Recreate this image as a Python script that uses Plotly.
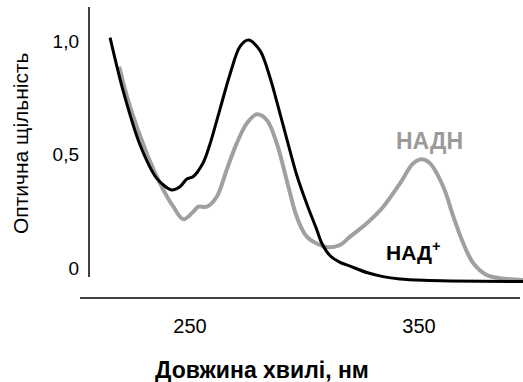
import plotly.graph_objects as go

# Wavelength (nm) and optical density
nad_wl = [215.1, 220.9, 228.2, 235.5, 242.0, 245.6, 248.6, 251.3, 255.8, 258.7, 263.1, 267.5,
          271.8, 275.5, 280.6, 284.9, 287.9, 292.2, 296.6, 301.0, 305.3, 307.5, 311.1, 315.5,
          319.9, 327.2, 334.3, 341.7, 352.0, 363.5, 395.4]
nad_od = [1.015, 0.777, 0.542, 0.395, 0.344, 0.358, 0.392, 0.402, 0.465, 0.545, 0.700, 0.855,
          0.975, 1.004, 0.958, 0.840, 0.733, 0.571, 0.410, 0.282, 0.170, 0.110, 0.055, 0.025,
          0.008, -0.020, -0.038, -0.048, -0.054, -0.057, -0.060]

nadh_wl = [219.1, 223.8, 231.1, 236.9, 242.7, 247.1, 251.4, 253.6, 257.3, 261.7, 266.0, 270.4,
           274.8, 279.1, 283.5, 287.9, 292.2, 296.6, 301.0, 307.5, 311.1, 315.5, 319.9, 327.2,
           334.4, 341.7, 347.5, 351.2, 354.8, 360.6, 365.0, 369.3, 373.7, 379.6, 385.4, 395.4]
nadh_od = [0.887, 0.711, 0.505, 0.373, 0.270, 0.215, 0.248, 0.270, 0.270, 0.314, 0.432, 0.549,
           0.637, 0.677, 0.652, 0.549, 0.388, 0.226, 0.138, 0.098, 0.091, 0.101, 0.138, 0.197,
           0.270, 0.373, 0.461, 0.479, 0.461, 0.358, 0.226, 0.109, 0.021, -0.031, -0.045, -0.053]

x_ticks = [250, 350]
x_tick_labels = ["250", "350"]
y_ticks = [0, 0.5, 1.0]
y_tick_labels = ["0", "0,5", "1,0"]

FONT = "Liberation Sans, Arial, sans-serif"

fig = go.Figure()
fig.add_trace(go.Scatter(x=nadh_wl, y=nadh_od, mode="lines", name="НАДН",
                         line=dict(color="#a0a0a0", width=4, shape="spline", smoothing=1.0)))
fig.add_trace(go.Scatter(x=nad_wl, y=nad_od, mode="lines", name="НАД⁺",
                         line=dict(color="#000000", width=3, shape="spline", smoothing=0.9)))

W, H = 523, 382
L, R, T, B = 80, 0, 7, 84
pw, ph = W - L - R, H - T - B

def px_x(px):
    return (px - L) / pw

def px_y(py):
    return (H - B - py) / ph

fig.update_layout(
    width=W, height=H,
    margin=dict(l=L, r=R, t=T, b=B, pad=0),
    paper_bgcolor="white", plot_bgcolor="white",
    showlegend=False,
    font=dict(family=FONT, color="black"),
    xaxis=dict(range=[201.97, 395.4], tickvals=x_ticks, ticktext=x_tick_labels,
               showgrid=False, zeroline=False, showline=False, ticks="",
               tickfont=dict(size=20, family=FONT, color="black"),
               ticklabelstandoff=14),
    yaxis=dict(range=[-0.1322, 1.1498], tickvals=y_ticks, ticktext=y_tick_labels,
               showgrid=False, zeroline=False, showline=False, ticks="",
               anchor="free", position=px_x(89),
               tickfont=dict(size=19, family=FONT, color="black"),
               ticklabelstandoff=10),
    shapes=[
        dict(type="line", xref="paper", yref="paper", x0=px_x(89), x1=px_x(89),
             y0=px_y(277), y1=px_y(7), line=dict(color="black", width=1.5)),
        dict(type="line", xref="paper", yref="paper", x0=px_x(80), x1=px_x(520),
             y0=px_y(298), y1=px_y(298), line=dict(color="black", width=1.5)),
    ],
    annotations=[
        dict(text="<b>НАДН</b>", xref="paper", yref="paper", x=px_x(429), y=px_y(141),
             showarrow=False, font=dict(size=23, family=FONT, color="#9a9a9a"),
             xanchor="center", yanchor="middle"),
        dict(text="<b>НАД<sup>+</sup></b>", xref="paper", yref="paper", x=px_x(413), y=px_y(251),
             showarrow=False, font=dict(size=21, family=FONT, color="black"),
             xanchor="center", yanchor="middle"),
        dict(text="<b>Довжина хвилі, нм</b>", xref="paper", yref="paper", x=px_x(262), y=px_y(370),
             showarrow=False, font=dict(size=23, family=FONT, color="black"),
             xanchor="center", yanchor="middle"),
        dict(text="Оптична щільність", xref="paper", yref="paper", x=px_x(20), y=px_y(143),
             showarrow=False, textangle=-90, font=dict(size=21, family=FONT, color="black"),
             xanchor="center", yanchor="middle"),
    ],
)

fig.write_html("out.html")
